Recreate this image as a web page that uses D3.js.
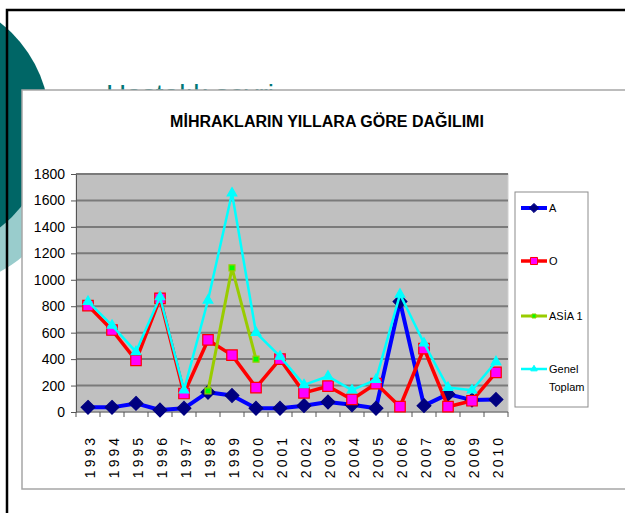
<!DOCTYPE html>
<html>
<head>
<meta charset="utf-8">
<script src="https://d3js.org/d3.v7.min.js"></script>
<style>
  body { margin: 0; background: #fff; }
  svg { display: block; font-family: "Liberation Sans", Arial, sans-serif; }
</style>
</head>
<body>
<svg id="drawing_region"></svg>
<script>
const years = ["1993","1994","1995","1996","1997","1998","1999","2000","2001",
               "2002","2003","2004","2005","2006","2007","2008","2009","2010"];
const seriesNames = ["A", "O", "ASİA 1", "Genel Toplam"];
const valuesA     = [35, 35, 65, 15, 28, 150, 125, 28, 28, 48, 75, 55, 28, 835, 48, 135, 90, 95];
const valuesO     = [805, 620, 390, 860, 140, 545, 430, 185, 400, 145, 195, 95, 215, 40, 480, 40, 85, 300];
const valuesAsia  = [null, null, null, null, null, 160, 1090, 400, null, null, null, null, null, null, null, null, null, null];
const valuesTotal = [835, 655, 455, 870, 165, 845, 1655, 600, 420, 205, 270, 165, 245, 890, 520, 185, 165, 380];
const yTicks = [0, 200, 400, 600, 800, 1000, 1200, 1400, 1600, 1800];
const chartTitle = "MİHRAKLARIN YILLARA GÖRE DAĞILIMI";

class LineChart {
    constructor( config ) {
        this.config = config;
        this.init();
    }

    init() {
        let self = this;
        self.svg = d3.select( self.config.parent )
            .attr('width', self.config.width)
            .attr('height', self.config.height);

        // slide decoration behind the chart object
        self.svg.append('circle')
            .attr('cx', -55).attr('cy', 165).attr('r', 120)
            .attr('fill', '#99cccc');
        self.svg.append('circle')
            .attr('cx', -80).attr('cy', 125).attr('r', 130)
            .attr('fill', '#006666');
        self.svg.append('text')
            .attr('x', 106).attr('y', 104)
            .attr('font-size', 28)
            .attr('fill', '#007777')
            .text('Hastalık seyri');

        // slide border
        self.svg.append('path')
            .attr('d', `M7,${self.config.height} V10 H${self.config.width}`)
            .attr('fill', 'none')
            .attr('stroke', '#000')
            .attr('stroke-width', 2.5);

        // chart object frame
        self.svg.append('rect')
            .attr('x', 22).attr('y', 90)
            .attr('width', self.config.width).attr('height', 399)
            .attr('fill', '#fff')
            .attr('stroke', '#a6a6a6')
            .attr('stroke-width', 1.5);

        self.plot = { left: 76, top: 174, right: 508, bottom: 412 };

        self.xscale = d3.scaleBand()
            .domain( years )
            .range( [self.plot.left, self.plot.right] );

        self.yscale = d3.scaleLinear()
            .domain( [0, 1800] )
            .range( [self.plot.bottom, self.plot.top] );

        self.line = d3.line()
            .defined( d => d.v !== null )
            .x( d => self.xscale(d.year) + self.xscale.bandwidth()/2 )
            .y( d => self.yscale(d.v) );
    }

    render() {
        let self = this;
        const p = self.plot;

        self.svg.append('text')
            .attr('x', 327).attr('y', 127)
            .attr('text-anchor', 'middle')
            .attr('font-size', 16)
            .attr('font-weight', 'bold')
            .text( chartTitle );

        self.svg.append('rect')
            .attr('x', p.left).attr('y', p.top)
            .attr('width', p.right - p.left).attr('height', p.bottom - p.top)
            .attr('fill', '#c0c0c0')
            .attr('stroke', '#d0d0d0');

        // gridlines
        self.svg.append('g')
            .selectAll('line')
            .data( yTicks.filter( d => d > 0 ) )
            .join('line')
            .attr('x1', p.left).attr('x2', p.right)
            .attr('y1', d => self.yscale(d)).attr('y2', d => self.yscale(d))
            .attr('stroke', '#7a7a7a')
            .attr('stroke-width', 2);

        // y axis
        const yaxis = self.svg.append('g')
            .attr('transform', `translate(${p.left},0)`)
            .call( d3.axisLeft( self.yscale ).tickValues( yTicks ).tickFormat( d3.format('d') )
                .tickSize(5).tickPadding(6).tickSizeOuter(0) );
        yaxis.selectAll('text').attr('font-size', 14).attr('fill', '#000');
        yaxis.attr('font-family', null);
        yaxis.selectAll('line').attr('stroke', '#555');
        yaxis.select('.domain').attr('stroke', '#555');

        // x axis
        const xaxis = self.svg.append('g')
            .attr('transform', `translate(0,${p.bottom})`);
        xaxis.append('line')
            .attr('x1', p.left).attr('x2', p.right)
            .attr('stroke', '#555');
        xaxis.selectAll('.tick')
            .data( years.concat(['end']) )
            .join('line')
            .attr('class', 'tick')
            .attr('x1', d => d === 'end' ? p.right : self.xscale(d))
            .attr('x2', d => d === 'end' ? p.right : self.xscale(d))
            .attr('y1', 0).attr('y2', 5)
            .attr('stroke', '#555');
        xaxis.selectAll('.label')
            .data( years )
            .join('text')
            .attr('class', 'label')
            .attr('transform', d => `translate(${self.xscale(d) + self.xscale.bandwidth()/2 + 2},23) rotate(-90)`)
            .attr('text-anchor', 'end')
            .attr('dy', '0.35em')
            .attr('font-size', 14)
            .attr('letter-spacing', 3)
            .text( d => d );

        const series = [
            { name: seriesNames[0], values: valuesA, line: '#0000ff', width: 4, marker: 'diamond', fill: '#000080', stroke: '#000080', size: 120 },
            { name: seriesNames[1], values: valuesO, line: '#ff0000', width: 3.5, marker: 'square', fill: '#ff00ff', stroke: '#ff0000', size: 110 },
            { name: seriesNames[2], values: valuesAsia, line: '#99cc00', width: 3, marker: 'square', fill: '#00ff00', stroke: '#99cc00', size: 36 },
            { name: seriesNames[3], values: valuesTotal, line: '#00ffff', width: 2.5, marker: 'triangle', fill: '#00ffff', stroke: '#00ffff', size: 40 }
        ];
        const symbols = { diamond: d3.symbolDiamond2, square: d3.symbolSquare, triangle: d3.symbolTriangle };

        series.forEach( s => {
            const pts = years.map( (y, i) => ({ year: y, v: s.values[i] }) );
            const g = self.svg.append('g');
            g.append('path')
                .datum( pts )
                .attr('d', self.line)
                .attr('fill', 'none')
                .attr('stroke', s.line)
                .attr('stroke-width', s.width)
                .attr('stroke-linejoin', 'round');
            g.selectAll('path.mk')
                .data( pts.filter( d => d.v !== null ) )
                .join('path')
                .attr('class', 'mk')
                .attr('transform', d => `translate(${self.xscale(d.year) + self.xscale.bandwidth()/2},${self.yscale(d.v)})`)
                .attr('d', d3.symbol().type( symbols[s.marker] ).size( s.size ))
                .attr('fill', s.fill)
                .attr('stroke', s.stroke)
                .attr('stroke-width', 1.2);
        });

        // legend
        const lg = self.svg.append('g');
        lg.append('rect')
            .attr('x', 515).attr('y', 192)
            .attr('width', 73).attr('height', 215)
            .attr('fill', '#fff')
            .attr('stroke', '#8c8c8c');
        const legendY = [208, 261, 316, 369];
        series.forEach( (s, i) => {
            const y = legendY[i];
            lg.append('line')
                .attr('x1', 521).attr('x2', 547)
                .attr('y1', y).attr('y2', y)
                .attr('stroke', s.line)
                .attr('stroke-width', s.width);
            lg.append('path')
                .attr('transform', `translate(534,${y})`)
                .attr('d', d3.symbol().type( symbols[s.marker] ).size( s.size * 0.45 ))
                .attr('fill', s.fill)
                .attr('stroke', s.stroke);
            const words = s.name === 'Genel Toplam' ? ['Genel', 'Toplam'] : [s.name];
            words.forEach( (w, k) => {
                lg.append('text')
                    .attr('x', 549).attr('y', y + 4 + k * 18)
                    .attr('font-size', 11)
                    .text( w );
            });
        });
    }
}

const chart = new LineChart({ parent: '#drawing_region', width: 625, height: 513 });
chart.render();
</script>
</body>
</html>
